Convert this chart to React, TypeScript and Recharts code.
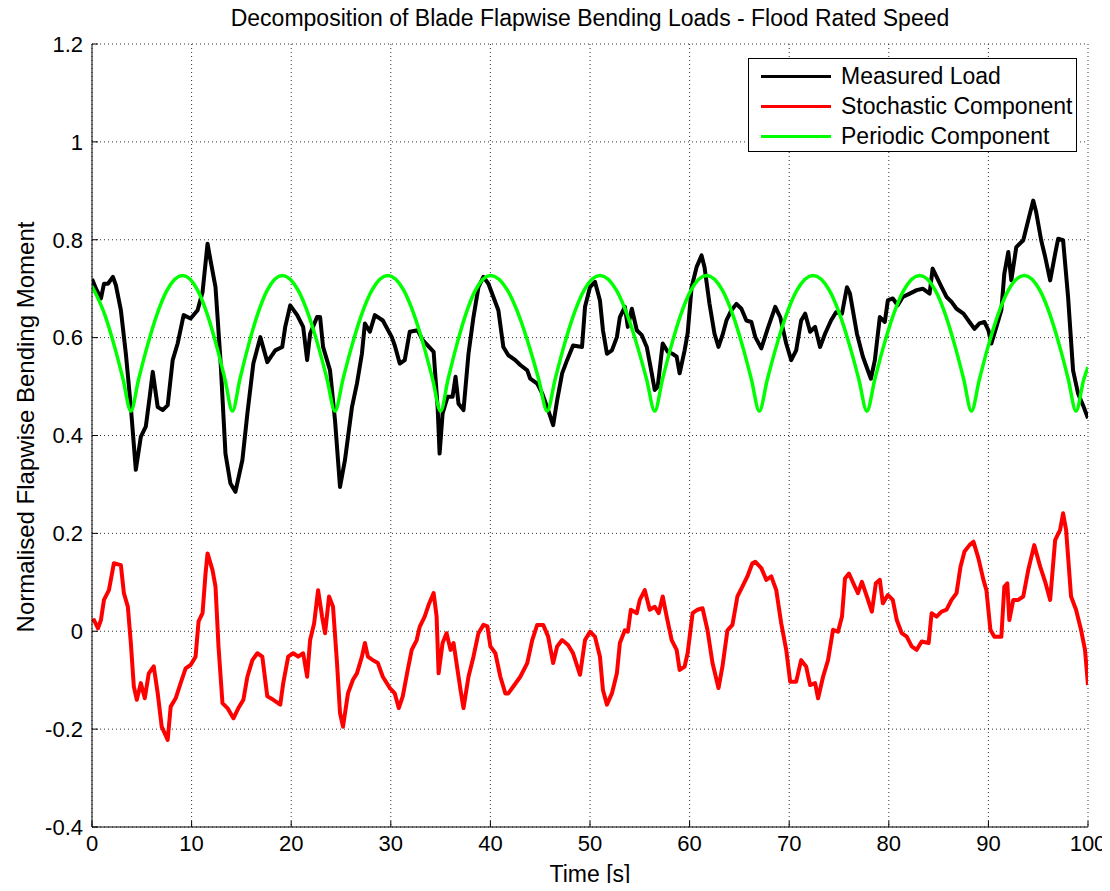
import React from "react";
import {
  LineChart,
  Line,
  XAxis,
  YAxis,
  CartesianGrid,
} from "recharts";

// ─── Data (time [s], normalised moment) ─────────────────────────────────────

const timeTicks = [0, 10, 20, 30, 40, 50, 60, 70, 80, 90, 100];
const momentTicks = [-0.4, -0.2, 0, 0.2, 0.4, 0.6, 0.8, 1, 1.2];

const measuredLoad: [number, number][] = [
  [0, 0.72], [0.4, 0.7], [0.9, 0.68], [1.2, 0.71], [1.6, 0.71], [2.1, 0.724],
  [2.4, 0.707], [2.9, 0.656], [3.4, 0.567], [3.9, 0.458], [4.4, 0.33], [4.9, 0.397],
  [5.4, 0.418], [5.8, 0.48], [6.1, 0.53], [6.6, 0.458], [7.1, 0.452], [7.6, 0.462],
  [8.1, 0.554], [8.6, 0.588], [9.2, 0.646], [9.9, 0.639], [10.6, 0.656], [11.1, 0.693],
  [11.6, 0.792], [11.9, 0.758], [12.4, 0.703], [12.9, 0.554], [13.4, 0.363], [13.9, 0.302],
  [14.4, 0.285], [15.1, 0.35], [15.6, 0.445], [16.2, 0.547], [16.9, 0.601], [17.6, 0.55],
  [18.4, 0.574], [19.1, 0.581], [19.4, 0.622], [19.9, 0.666], [20.6, 0.646], [21.2, 0.622],
  [21.6, 0.554], [21.9, 0.608], [22.6, 0.642], [22.9, 0.642], [23.2, 0.581], [23.9, 0.533],
  [24.4, 0.431], [24.9, 0.295], [25.4, 0.35], [26.1, 0.458], [26.6, 0.506], [27.1, 0.567],
  [27.4, 0.629], [27.9, 0.612], [28.4, 0.646], [29.2, 0.635], [30.1, 0.601], [30.4, 0.584],
  [30.9, 0.547], [31.4, 0.554], [31.9, 0.612], [32.7, 0.615], [33.2, 0.595], [33.7, 0.584],
  [34.3, 0.571], [34.7, 0.458], [34.9, 0.363], [35.2, 0.445], [35.7, 0.479], [36.2, 0.479],
  [36.5, 0.52], [36.8, 0.465], [37.3, 0.452], [37.8, 0.567], [38.3, 0.642], [38.8, 0.703],
  [39.3, 0.724], [39.8, 0.71], [40.3, 0.683], [40.8, 0.656], [41.3, 0.581], [41.8, 0.564],
  [42.5, 0.554], [43.0, 0.544], [43.7, 0.533], [44.0, 0.516], [44.7, 0.506], [45.2, 0.486],
  [45.8, 0.452], [46.3, 0.421], [46.7, 0.472], [47.2, 0.527], [47.7, 0.554], [48.3, 0.584],
  [49.2, 0.581], [49.5, 0.663], [50.0, 0.703], [50.5, 0.714], [51.0, 0.676], [51.3, 0.615],
  [51.7, 0.567], [52.2, 0.574], [52.7, 0.601], [53.0, 0.642], [53.5, 0.663], [53.8, 0.622],
  [54.2, 0.659], [54.7, 0.615], [55.2, 0.605], [55.7, 0.581], [56.2, 0.527], [56.5, 0.493],
  [56.8, 0.5], [57.3, 0.588], [57.8, 0.571], [58.3, 0.567], [58.7, 0.561], [59.0, 0.527],
  [59.5, 0.574], [59.8, 0.608], [60.2, 0.703], [60.7, 0.744], [61.2, 0.768], [61.5, 0.744],
  [62.0, 0.669], [62.5, 0.608], [62.9, 0.581], [63.3, 0.605], [63.7, 0.635], [64.2, 0.656],
  [64.7, 0.669], [65.2, 0.659], [65.7, 0.635], [66.2, 0.632], [66.6, 0.601], [67.2, 0.578],
  [67.9, 0.622], [68.6, 0.663], [69.1, 0.642], [69.7, 0.588], [70.2, 0.554], [70.7, 0.574],
  [71.2, 0.635], [71.6, 0.649], [72.1, 0.612], [72.6, 0.622], [73.1, 0.581], [73.6, 0.608],
  [74.2, 0.635], [74.7, 0.652], [75.3, 0.649], [75.8, 0.703], [76.1, 0.69], [76.8, 0.608],
  [77.4, 0.561], [78.2, 0.516], [78.6, 0.554], [79.1, 0.642], [79.6, 0.632], [79.9, 0.676],
  [80.4, 0.68], [80.9, 0.666], [81.4, 0.683], [82.1, 0.69], [82.8, 0.697], [83.4, 0.7],
  [84.1, 0.69], [84.4, 0.741], [84.8, 0.724], [85.3, 0.703], [85.8, 0.683], [86.3, 0.673],
  [86.8, 0.659], [87.5, 0.649], [88.1, 0.632], [88.6, 0.618], [89.1, 0.629], [89.6, 0.632],
  [90.0, 0.615], [90.3, 0.588], [90.8, 0.622], [91.3, 0.656], [91.6, 0.731], [92.0, 0.775],
  [92.3, 0.717], [92.8, 0.785], [93.5, 0.799], [94.0, 0.84], [94.5, 0.88], [94.8, 0.856],
  [95.3, 0.799], [95.7, 0.765], [96.2, 0.717], [96.7, 0.771], [97.0, 0.802], [97.5, 0.799],
  [98.0, 0.683], [98.5, 0.533], [99.0, 0.486], [99.5, 0.462], [100, 0.435],
];

const stochasticComponent: [number, number][] = [
  [0, 0.02], [0.2, 0.023], [0.6, 0.006], [0.9, 0.023], [1.2, 0.064], [1.7, 0.084],
  [2.2, 0.139], [2.9, 0.135], [3.2, 0.078], [3.6, 0.05], [3.9, -0.024], [4.2, -0.113],
  [4.5, -0.14], [4.9, -0.106], [5.3, -0.137], [5.7, -0.086], [6.2, -0.072], [6.6, -0.127],
  [7.0, -0.195], [7.6, -0.222], [7.9, -0.154], [8.4, -0.137], [8.9, -0.106], [9.4, -0.076],
  [9.9, -0.069], [10.4, -0.052], [10.7, 0.02], [11.1, 0.037], [11.4, 0.118], [11.6, 0.159],
  [12.1, 0.125], [12.4, 0.091], [12.7, -0.031], [13.1, -0.147], [13.6, -0.157], [14.2, -0.178],
  [14.7, -0.157], [15.2, -0.14], [15.6, -0.093], [16.1, -0.059], [16.6, -0.045], [17.1, -0.052],
  [17.6, -0.133], [18.2, -0.14], [18.9, -0.15], [19.2, -0.106], [19.7, -0.052], [20.2, -0.045],
  [20.7, -0.052], [21.2, -0.045], [21.6, -0.093], [21.9, -0.018], [22.3, 0.016], [22.7, 0.084],
  [23.1, 0.03], [23.4, -0.004], [23.8, 0.071], [24.2, 0.05], [24.6, -0.065], [24.9, -0.167],
  [25.2, -0.195], [25.7, -0.127], [26.2, -0.099], [26.6, -0.086], [27.1, -0.052], [27.4, -0.024],
  [27.7, -0.052], [28.2, -0.059], [28.7, -0.065], [29.2, -0.093], [29.9, -0.116], [30.4, -0.127],
  [30.8, -0.157], [31.2, -0.133], [31.7, -0.079], [32.1, -0.038], [32.6, -0.018], [32.9, 0.009],
  [33.4, 0.03], [33.8, 0.054], [34.3, 0.078], [34.6, 0.03], [34.8, -0.086], [35.2, -0.024],
  [35.6, -0.004], [36.0, -0.038], [36.3, -0.024], [36.7, -0.079], [37.0, -0.12], [37.3, -0.157],
  [37.8, -0.093], [38.3, -0.052], [38.8, -0.004], [39.3, 0.013], [39.7, 0.01], [40.0, -0.031],
  [40.5, -0.045], [41.0, -0.093], [41.5, -0.127], [41.8, -0.127], [42.3, -0.113], [43.0, -0.093],
  [43.7, -0.065], [44.2, -0.018], [44.7, 0.013], [45.3, 0.013], [45.8, -0.011], [46.3, -0.065],
  [46.7, -0.031], [47.2, -0.018], [47.8, -0.028], [48.3, -0.045], [49.0, -0.089], [49.5, -0.018],
  [50.0, -0.001], [50.5, -0.011], [51.0, -0.052], [51.3, -0.12], [51.7, -0.15], [52.2, -0.127],
  [52.7, -0.086], [53.0, -0.024], [53.5, 0.002], [53.8, -0.001], [54.1, 0.044], [54.7, 0.037],
  [55.0, 0.064], [55.5, 0.084], [56.0, 0.044], [56.5, 0.05], [56.9, 0.037], [57.3, 0.071],
  [57.7, 0.03], [58.2, -0.018], [58.7, -0.038], [59.0, -0.079], [59.5, -0.072], [59.8, -0.045],
  [60.3, 0.037], [60.8, 0.044], [61.3, 0.047], [61.8, 0.002], [62.3, -0.065], [62.9, -0.116],
  [63.3, -0.072], [63.8, 0.002], [64.3, 0.013], [64.8, 0.071], [65.3, 0.091], [65.8, 0.112],
  [66.3, 0.139], [66.6, 0.142], [67.2, 0.129], [67.7, 0.105], [68.2, 0.112], [68.7, 0.084],
  [69.2, 0.016], [69.7, -0.038], [70.1, -0.103], [70.7, -0.103], [71.2, -0.059], [71.7, -0.072],
  [72.1, -0.11], [72.6, -0.106], [72.9, -0.137], [73.4, -0.093], [73.9, -0.059], [74.4, 0.003],
  [74.9, -0.001], [75.3, 0.03], [75.6, 0.108], [76.0, 0.118], [76.6, 0.091], [76.9, 0.078],
  [77.3, 0.101], [77.8, 0.071], [78.3, 0.04], [78.7, 0.098], [79.1, 0.105], [79.4, 0.057],
  [79.9, 0.074], [80.4, 0.064], [80.8, 0.023], [81.3, -0.004], [81.8, -0.011], [82.3, -0.031],
  [82.8, -0.038], [83.3, -0.021], [84.0, -0.024], [84.3, 0.037], [84.8, 0.03], [85.3, 0.04],
  [85.8, 0.044], [86.3, 0.064], [86.8, 0.078], [87.2, 0.132], [87.6, 0.163], [88.1, 0.176],
  [88.5, 0.183], [89.0, 0.149], [89.5, 0.105], [89.8, 0.084], [90.2, 0.003], [90.6, -0.011],
  [91.3, -0.011], [91.6, 0.091], [91.9, 0.098], [92.1, 0.023], [92.5, 0.064], [93.0, 0.064],
  [93.5, 0.071], [94.0, 0.125], [94.6, 0.176], [95.2, 0.132], [95.7, 0.101], [96.2, 0.064],
  [96.7, 0.186], [97.2, 0.207], [97.5, 0.241], [97.8, 0.207], [98.3, 0.071], [98.8, 0.044],
  [99.3, 0.003], [99.7, -0.038], [100, -0.11],
];

// peaks ~0.727, troughs ~0.45, roughly a 10.5 s cycle
const periodicComponent: [number, number][] = [
  [0, 0.705], [1.3, 0.646], [2.34, 0.576], [3.12, 0.515], [3.9, 0.45],
  [4.68, 0.515], [5.46, 0.576], [6.5, 0.646], [7.54, 0.697], [9.1, 0.727],
  [10.6, 0.697], [11.6, 0.646], [12.6, 0.576], [13.35, 0.515], [14.1, 0.45],
  [14.85, 0.515], [15.6, 0.576], [16.6, 0.646], [17.6, 0.697], [19.1, 0.727],
  [20.69, 0.697], [21.75, 0.646], [22.81, 0.576], [23.6, 0.515], [24.4, 0.45],
  [25.2, 0.515], [25.99, 0.576], [27.05, 0.646], [28.11, 0.697], [29.7, 0.727],
  [31.29, 0.697], [32.35, 0.646], [33.41, 0.576], [34.2, 0.515], [35.0, 0.45],
  [35.75, 0.515], [36.5, 0.576], [37.5, 0.646], [38.5, 0.697], [40.0, 0.727],
  [41.71, 0.697], [42.85, 0.646], [43.99, 0.576], [44.85, 0.515], [45.7, 0.45],
  [46.5, 0.515], [47.29, 0.576], [48.35, 0.646], [49.41, 0.697], [51.0, 0.727],
  [52.65, 0.697], [53.75, 0.646], [54.85, 0.576], [55.68, 0.515], [56.5, 0.45],
  [57.28, 0.515], [58.06, 0.576], [59.1, 0.646], [60.14, 0.697], [61.7, 0.727],
  [63.29, 0.697], [64.35, 0.646], [65.41, 0.576], [66.2, 0.515], [67.0, 0.45],
  [67.81, 0.515], [68.62, 0.576], [69.7, 0.646], [70.78, 0.697], [72.4, 0.727],
  [74.02, 0.697], [75.1, 0.646], [76.18, 0.576], [76.99, 0.515], [77.8, 0.45],
  [78.6, 0.515], [79.39, 0.576], [80.45, 0.646], [81.51, 0.697], [83.1, 0.727],
  [84.66, 0.697], [85.7, 0.646], [86.74, 0.576], [87.52, 0.515], [88.3, 0.45],
  [89.1, 0.515], [89.89, 0.576], [90.95, 0.646], [92.01, 0.697], [93.6, 0.727],
  [95.16, 0.697], [96.2, 0.646], [97.24, 0.576], [98.02, 0.515], [98.8, 0.45],
  [99.58, 0.515], [100, 0.54],
];

const SERIES = [
  { name: "Measured Load", color: "#000000", points: measuredLoad, curve: "linear", width: 4 },
  { name: "Stochastic Component", color: "#ff0000", points: stochasticComponent, curve: "linear", width: 4 },
  { name: "Periodic Component", color: "#00ff00", points: periodicComponent, curve: "monotone", width: 3.5 },
] as const;

const FONT = '"Liberation Sans", Arial, Helvetica, sans-serif';
const tickStyle = { fontSize: 22, fill: "#000", fontFamily: FONT };

function toRows(points: readonly [number, number][]) {
  return points.map(([t, v]) => ({ t, v }));
}

function ChartLegend() {
  return (
    <div
      style={{
        position: "absolute",
        left: 740,
        top: 50,
        width: 329,
        height: 94,
        border: "1px solid #000",
        background: "#fff",
        fontFamily: FONT,
        fontSize: 23,
        color: "#000",
        boxSizing: "border-box",
        paddingTop: 2,
      }}
    >
      {SERIES.map((s) => (
        <div key={s.name} style={{ display: "flex", alignItems: "center", height: 30 }}>
          <div style={{ width: 70, height: 3, background: s.color, marginLeft: 12, marginRight: 10 }} />
          <span>{s.name}</span>
        </div>
      ))}
    </div>
  );
}

export default function App() {
  return (
    <div style={{ position: "relative", width: 1102, height: 875, fontFamily: FONT }}>
      <div
        style={{
          position: "absolute",
          top: -3,
          left: 84,
          width: 996,
          textAlign: "center",
          fontSize: 23,
        }}
      >
        Decomposition of Blade Flapwise Bending Loads - Flood Rated Speed
      </div>
      <div
        style={{
          position: "absolute",
          left: 18,
          top: 419,
          fontSize: 24,
          whiteSpace: "nowrap",
          transform: "translate(-50%, -50%) rotate(-90deg)",
        }}
      >
        Normalised Flapwise Bending Moment
      </div>
      <div
        style={{
          position: "absolute",
          top: 853,
          left: 84,
          width: 996,
          textAlign: "center",
          fontSize: 23,
        }}
      >
        Time [s]
      </div>

      <LineChart width={1102} height={875} margin={{ top: 36, right: 22, left: 24, bottom: 26 }}>
        <CartesianGrid stroke="#333" strokeDasharray="1 3" />
        <XAxis
          type="number"
          dataKey="t"
          domain={[0, 100]}
          ticks={timeTicks}
          allowDataOverflow
          height={30}
          tick={tickStyle}
          tickSize={-6}
          tickMargin={14}
          stroke="#000"
        />
        <XAxis
          xAxisId="top"
          orientation="top"
          type="number"
          dataKey="t"
          domain={[0, 100]}
          ticks={timeTicks}
          height={0}
          tick={false}
          tickSize={-6}
          stroke="#000"
        />
        <YAxis
          type="number"
          domain={[-0.4, 1.2]}
          ticks={momentTicks}
          allowDataOverflow
          width={60}
          tick={tickStyle}
          tickSize={-6}
          tickMargin={15}
          tickFormatter={(v: number) => String(Math.round(v * 10) / 10)}
          stroke="#000"
        />
        <YAxis
          yAxisId="right"
          orientation="right"
          type="number"
          domain={[-0.4, 1.2]}
          ticks={momentTicks}
          width={0}
          tick={false}
          tickSize={-6}
          stroke="#000"
        />
        {SERIES.map((s) => (
          <Line
            key={s.name}
            data={toRows(s.points)}
            dataKey="v"
            name={s.name}
            type={s.curve}
            stroke={s.color}
            strokeWidth={s.width}
            strokeLinejoin="round"
            dot={false}
            activeDot={false}
            isAnimationActive={false}
          />
        ))}
      </LineChart>

      <ChartLegend />
    </div>
  );
}
